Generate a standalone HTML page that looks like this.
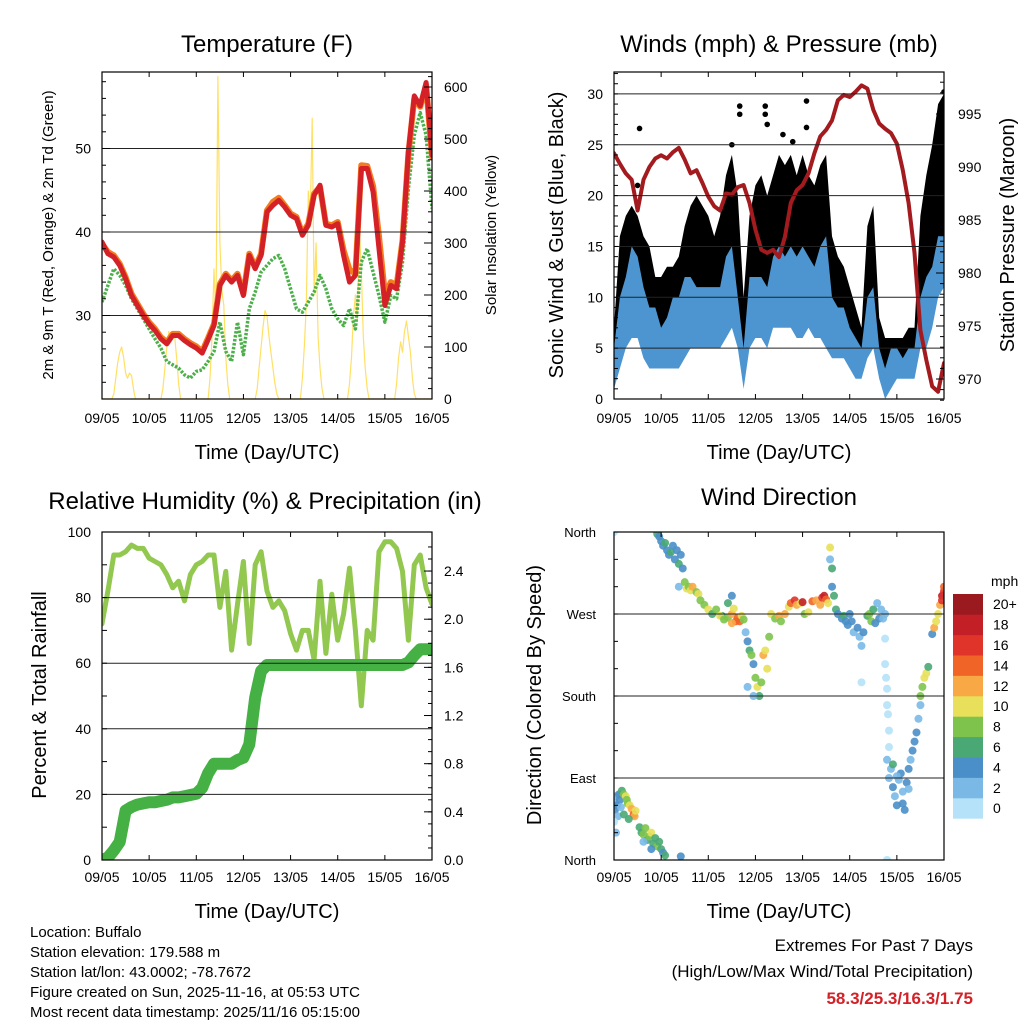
<!DOCTYPE html>
<html><head><meta charset="utf-8">
<style>
html,body{margin:0;padding:0;background:#fff;}
svg{display:block;font-family:"Liberation Sans",Arial,sans-serif;}
</style></head>
<body>
<svg id="root" width="1024" height="1024" viewBox="0 0 1024 1024" xmlns="http://www.w3.org/2000/svg"></svg>
<script>
// ---------- data (3-hourly, hours 0..168) ----------
const dayLabels = ["09/05","10/05","11/05","12/05","13/05","14/05","15/05","16/05"];
const temp2m = [38.8,37.4,37.0,36.0,34.4,32.4,31.2,30.0,29.0,28.2,27.2,26.6,27.6,27.6,27.0,26.5,26.1,25.5,27.1,28.8,33.6,34.8,34.0,34.8,32.4,37.2,35.6,37.2,42.4,43.2,43.8,43.0,42.0,41.6,39.6,40.8,44.4,45.6,40.8,40.6,41.0,37.2,34.0,34.8,47.6,47.6,44.8,38.0,31.2,33.6,33.2,38.8,49.6,56.3,55.1,57.9,49.2];
const temp9m = [38.6,37.6,37.2,36.2,34.6,32.6,31.4,30.2,29.2,28.4,27.4,26.8,27.8,27.8,27.2,26.7,26.3,25.7,27.3,29.0,33.8,35.0,34.2,35.0,32.6,37.4,35.8,37.4,42.6,43.6,44.1,43.2,42.2,41.8,39.8,41.0,44.6,45.4,41.0,40.8,41.2,37.8,35.5,35.0,48.0,47.9,45.5,39.5,32.5,34.0,33.6,39.0,49.4,56.0,55.0,57.6,49.0];
const dewpt = [31.6,33.6,35.6,34.8,33.6,32.0,30.8,29.6,28.4,27.2,26.1,24.5,24.1,23.7,22.9,22.5,23.3,23.5,24.5,25.7,29.2,25.7,24.5,29.2,25.3,30.8,32.8,35.2,36.0,36.8,37.2,35.6,33.2,30.8,30.4,31.6,32.8,34.8,33.2,30.8,29.6,28.8,30.8,28.4,36.4,38.0,35.2,32.4,29.2,32.4,32.0,36.4,45.2,51.6,54.3,51.6,42.8];
// hourly solar insolation, hours 0..168
const solar = [0,0,0,0,0,0,10,40,70,90,100,80,50,40,50,45,20,0,0,0,0,0,0,0,
 0,0,0,0,0,0,0,20,60,100,130,110,130,120,80,30,0,0,0,0,0,0,0,0,
 0,0,0,0,0,0,0,40,120,250,150,620,300,210,180,80,30,0,0,0,0,0,0,0,
 0,0,0,0,0,0,0,20,60,100,140,170,160,120,90,60,30,10,0,0,0,0,0,0,
 0,0,0,0,0,0,40,100,180,400,350,540,200,300,120,60,20,0,0,0,0,0,0,0,
 0,0,0,0,0,0,30,80,160,200,150,330,250,120,60,20,0,0,0,0,0,0,0,0,
 0,0,0,0,0,0,30,80,110,90,130,150,120,90,40,10,0,0,0,0,0,0,0,0,0];
const pressure = [991.3,990.3,989.4,988.8,985.9,988.8,990.0,990.8,991.1,990.8,991.4,991.8,990.7,989.4,989.7,988.5,987.2,986.3,985.9,987.5,987.4,988.1,988.3,986.6,984.1,982.2,981.9,982.2,981.5,983.4,986.6,987.8,988.3,989.4,991.3,992.9,993.5,994.4,996.3,996.8,996.6,997.1,997.7,997.4,995.4,994.1,993.6,993.2,992.2,989.7,986.6,981.9,974.6,971.8,969.3,968.8,971.5];
const windLo = [1,3,5,6,6,4,3,3,3,3,3,3,4,5,5,5,5,5,5,6,7,5,1,5,6,6,5,7,7,7,7,6,6,7,6,6,5,4,4,4,3,2,2,4,5,2,0,1,2,2,2,2,5,5,7,10,11];
const windHi = [5,10,12,15,14,11,9,9,7,8,10,10,12,12,11,11,11,11,11,14,15,10,5,12,12,12,11,14,15,14,15,14,15,14,13,15,16,10,9,9,7,6,5,10,11,5,3,5,5,4,5,5,10,12,13,16,16];
const gustHi = [7,16,18,19,18,16,15,12,12,13,13,14,17,19,20,19,18,16,18,22,24,20,10,18,21,22,20,22,24,23,24,22,24,22,21,23,24,16,14,13,11,9,7,17,19,8,6,6,6,6,7,7,18,22,25,29,30];
const gustOutT = [13,64,64,77,77,78,98,98,91,86,168,167,166,12,60];
const gustOutV = [26.6,28.8,28.0,28.8,28.0,27.0,29.3,26.7,25.3,26.0,30.2,29.0,27.0,21,25];
const rh = [72,82,93,93,94,96,95,95,92,91,90,87,83,85,79,87,90,91,93,93,77,88,64,78,91,66,90,94,82,77,79,76,69,64,70,70,61,85,63,81,67,75,89,70,47,70,67,94,97,97,95,88,67,90,93,83,78];
const precip = [0,0.02,0.08,0.15,0.41,0.44,0.46,0.47,0.48,0.48,0.49,0.5,0.52,0.52,0.53,0.54,0.55,0.6,0.72,0.8,0.8,0.8,0.8,0.83,0.85,0.96,1.35,1.57,1.62,1.62,1.62,1.62,1.62,1.62,1.62,1.62,1.62,1.62,1.62,1.62,1.62,1.62,1.62,1.62,1.62,1.62,1.62,1.62,1.62,1.62,1.62,1.62,1.64,1.7,1.75,1.75,1.75];
const dirT = [0,0.5,1,1.5,2,2.5,3,3.5,0,1, 4,5,6,6.5,7,8,9,10,10.5,11,7.5,5, 13,14,15,16,17,18,19,20,21,22,23,24,25,26,15,19,34,
 22,23,24,25,26,27,28,29,30,31,32,33,34,35,33,0, 36,37,38,39,40,42,43,44,46,48,50,52,55,58,60,
 54,56,58,60,62,63,64,65,66,60,61, 67,68,69,70,71,72,73,74,75,76,77,78,79,71,68,
 80,82,84,85,87,89,90,92,93,95,97,99,101,103,105,106,107,108,109,96,
 110,110,111,111,112,113,114,116,117,118,119,
 120,121,122,124,125,126,126,127,129,130,131,132,133,134,135,136,137,138,138,
 138,138.5,139,139,139.5,140,140,139,139,
 140,141,142,143,144,145,146,147,148,149,150,151,152,153,154,155,156,142,150,147,144,
 156,157,158,159,160, 162,163,164,165,166,167,168,167,168];
const dirD = [65,55,70,60,48,72,66,58,42,30, 76,72,70,66,62,60,56,50,48,54,45,50, 36,30,28,35,22,26,30,18,24,15,20,12,8,5,20,12,4,
 358,355,350,345,348,340,335,338,345,330,340,325,335,320,300,360, 305,298,300,296,300,294,292,285,280,275,270,275,268,282,290,
 268,264,266,270,262,266,262,268,264,260,276, 250,240,230,225,215,200,190,180,195,225,230,210,245,180,190,
 270,265,268,262,270,278,282,285,280,282,270,272,284,285,280,288,290,286,282,283,
 343,330,320,300,290,275,270,265,268,262,258,
 270,262,250,255,245,235,195,250,268,270,262,275,260,282,265,275,265,270,243,
 215,200,188,170,160,142,124,0,110,
 90,100,80,70,60,88,95,75,55,85,100,110,120,130,140,155,170,105,78,62,92,
 180,190,200,205,212, 248,255,262,270,280,290,295,285,300];
const dirS = [3,4,2,4,3,5,4,3,1,2, 7,9,10,9,8,11,12,14,13,10,7,6, 6,7,8,9,6,8,10,7,6,8,7,6,5,7,3,5,4,
 7,5,4,5,6,5,4,6,5,4,5,6,4,5,3,1, 8,10,9,11,12,8,10,9,8,10,7,8,6,7,5,
 10,9,8,12,14,15,14,11,8,12,10, 2,4,6,9,4,8,10,6,9,12,11,10,9,2,3,
 10,9,12,9,13,11,14,16,13,10,9,11,14,12,12,16,18,14,10,18,
 10,3,6,5,7,6,5,4,6,4,5,
 5,4,3,4,2,2,1,4,6,8,9,7,5,3,4,3,2,2,1,
 0,0,1,0,1,1,1,1,2,
 3,2,4,3,4,3,4,2,4,5,4,3,4,5,4,3,2,6,2,4,2,
 8,9,11,10,7, 4,12,10,11,12,18,17,16,14];
const speedLabels = ["0","2","4","6","8","10","12","14","16","18","20+"];
const speedColors = ["#b5e2f8","#7ab9e5","#4a8fc8","#4aa874","#7ec44c","#e8e05a","#f8a945","#f06428","#e0332a","#c21f27","#9b1a1f"];

// ---------- helpers ----------
const NS = "http://www.w3.org/2000/svg";
const root = document.getElementById("root");
function mk(tag, attrs, name, parent) {
  const el = document.createElementNS(NS, tag);
  for (const k in attrs) el.setAttribute(k, attrs[k]);
  
  
  (parent || root).appendChild(el);
  return el;
}
function txt(x, y, s, size, anchor, name, opts) {
  opts = opts || {};
  const a = {x: x, y: y, "font-size": size, "text-anchor": anchor || "start", fill: opts.fill || "#000"};
  if (opts.weight) a["font-weight"] = opts.weight;
  if (opts.rot) a.transform = "rotate(" + opts.rot + " " + x + " " + y + ")";
  const t = mk("text", a, name, opts.parent);
  t.textContent = s;
  return t;
}
function line(x1, y1, x2, y2, stroke, w, name, parent) {
  return mk("line", {x1: x1, y1: y1, x2: x2, y2: y2, stroke: stroke, "stroke-width": w}, name, parent);
}
function poly(pts, stroke, w, name, parent, extra) {
  const a = {points: pts.map(p => p[0].toFixed(1) + "," + p[1].toFixed(1)).join(" "), fill: "none", stroke: stroke, "stroke-width": w, "stroke-linejoin": "round", "stroke-linecap": "round"};
  for (const k in (extra || {})) a[k] = extra[k];
  return mk("polyline", a, name, parent);
}
function area(top, bot, fill, name, parent) {
  const pts = top.concat(bot.slice().reverse());
  return mk("polygon", {points: pts.map(p => p[0].toFixed(1) + "," + p[1].toFixed(1)).join(" "), fill: fill}, name, parent);
}
function panel(P, id) {
  const g = mk("g", {}, id + "-panel");
  const cp = mk("clipPath", {id: id + "-clip"}, id + "-clip", g);
  mk("rect", {x: P.x0, y: P.y0, width: P.x1 - P.x0, height: P.y1 - P.y0}, id + "-clip-rect", cp);
  const plot = mk("g", {"clip-path": "url(#" + id + "-clip)"}, id + "-plot-area", g);
  return {g: g, plot: plot, xs: h => P.x0 + h * (P.x1 - P.x0) / 168};
}
function frameAndDays(P, pn, id, labelY) {
  mk("rect", {x: P.x0, y: P.y0, width: P.x1 - P.x0, height: P.y1 - P.y0, fill: "none", stroke: "#000", "stroke-width": 1.2}, id + "-frame", pn.g);
  dayLabels.forEach((d, i) => {
    const x = pn.xs(i * 24);
    line(x, P.y1, x, P.y1 - 5, "#000", 1, id + "-x-tick", pn.g);
    line(x, P.y0, x, P.y0 + 5, "#000", 1, id + "-x-tick-top", pn.g);
    txt(x, labelY, d, 14, "middle", id + "-x-tick-label", {parent: pn.g});
  });
  txt((P.x0 + P.x1) / 2, labelY + 36, "Time (Day/UTC)", 20, "middle", id + "-x-axis-title", {parent: pn.g});
}
const t3 = i => i * 3;

// ---------- Panel 1: Temperature ----------
(function () {
  const P = {x0: 102, x1: 432, y0: 72, y1: 399};
  const pn = panel(P, "temp");
  const ty = v => 399 - (v - 20) * 8.35;
  const sy = v => 399 - v * 0.52;
  [30, 40, 50].forEach(v => {
    line(P.x0, ty(v), P.x1, ty(v), "#222", 1, "temp-gridline", pn.g);
    txt(P.x0 - 11, ty(v) + 5, String(v), 14, "end", "temp-y-tick-label", {parent: pn.g});
  });
  for (let v = 22; v <= 58; v += 2) line(P.x0, ty(v), P.x0 + (v % 10 === 0 ? 8 : 4), ty(v), "#000", 1, "temp-y-minor-tick", pn.g);
  for (let v = 0; v <= 600; v += 100) {
    line(P.x1, sy(v), P.x1 - 8, sy(v), "#000", 1, "solar-y-tick", pn.g);
    txt(P.x1 + 12, sy(v) + 5, String(v), 14, "start", "solar-y-tick-label", {parent: pn.g});
  }
  for (let v = 20; v <= 620; v += 20) line(P.x1, sy(v), P.x1 - 4, sy(v), "#000", 1, "solar-y-minor-tick", pn.g);
  poly(solar.map((v, i) => [pn.xs(i), sy(v)]), "#ffe066", 1.2, "solar-insolation-line", pn.plot);
  poly(dewpt.map((v, i) => [pn.xs(t3(i)), ty(v)]), "#4cb04a", 3.5, "dewpoint-2m-line", pn.plot, {"stroke-dasharray": "2.5,1.5", "stroke-linecap": "butt"});
  poly(temp9m.map((v, i) => [pn.xs(t3(i)), ty(v)]), "#f47c20", 6, "temp-9m-line", pn.plot);
  poly(temp2m.map((v, i) => [pn.xs(t3(i)), ty(v)]), "#d42027", 5, "temp-2m-line", pn.plot);
  frameAndDays(P, pn, "temp", 423);
  txt(267, 52, "Temperature (F)", 24, "middle", "temp-chart-title", {parent: pn.g});
  txt(53, 235, "2m & 9m T (Red, Orange) & 2m Td (Green)", 15, "middle", "temp-y-axis-title", {parent: pn.g, rot: -90});
  txt(496, 235, "Solar Insolation (Yellow)", 15, "middle", "solar-y-axis-title", {parent: pn.g, rot: -90});
})();

// ---------- Panel 2: Winds & Pressure ----------
(function () {
  const P = {x0: 614, x1: 944, y0: 72, y1: 399};
  const pn = panel(P, "wind");
  const wy = v => 399 - v * 10.17;
  const py = v => 379 - (v - 970) * 10.6;
  for (let v = 0; v <= 30; v += 5) {
    if (v > 0) line(P.x0, wy(v), P.x1, wy(v), "#222", 1, "wind-gridline", pn.g);
    txt(P.x0 - 11, wy(v) + 5, String(v), 14, "end", "wind-y-tick-label", {parent: pn.g});
  }
  for (let v = 1; v <= 32; v++) line(P.x0, wy(v), P.x0 + 4, wy(v), "#000", 1, "wind-y-minor-tick", pn.g);
  for (let v = 970; v <= 995; v += 5) {
    line(P.x1, py(v), P.x1 - 8, py(v), "#000", 1, "pressure-y-tick", pn.g);
    txt(P.x1 + 14, py(v) + 5, String(v), 14, "start", "pressure-y-tick-label", {parent: pn.g});
  }
  for (let v = 968; v <= 998; v++) line(P.x1, py(v), P.x1 - 4, py(v), "#000", 1, "pressure-y-minor-tick", pn.g);
  area(gustHi.map((v, i) => [pn.xs(t3(i)), wy(v)]), windLo.map((v, i) => [pn.xs(t3(i)), wy(v + 1)]), "#000", "gust-points", pn.plot);
  gustOutT.forEach((t, i) => mk("circle", {cx: pn.xs(t), cy: wy(gustOutV[i]), r: 2.8, fill: "#000"}, "gust-outlier-point", pn.plot));
  area(windHi.map((v, i) => [pn.xs(t3(i)), wy(v)]), windLo.map((v, i) => [pn.xs(t3(i)), wy(v)]), "#4d95d0", "sonic-wind-band", pn.plot);
  poly(pressure.map((v, i) => [pn.xs(t3(i)), py(v)]), "#a31b1f", 4, "station-pressure-line", pn.plot);
  frameAndDays(P, pn, "wind", 423);
  txt(779, 52, "Winds (mph) & Pressure (mb)", 24, "middle", "wind-chart-title", {parent: pn.g});
  txt(563, 235, "Sonic Wind & Gust (Blue, Black)", 20, "middle", "wind-y-axis-title", {parent: pn.g, rot: -90});
  txt(1014, 235, "Station Pressure (Maroon)", 20, "middle", "pressure-y-axis-title", {parent: pn.g, rot: -90});
})();

// ---------- Panel 3: RH & Precip ----------
(function () {
  const P = {x0: 102, x1: 432, y0: 532, y1: 860};
  const pn = panel(P, "rh");
  const ry = v => 860 - v * 3.28;
  const pry = v => 860 - v * 120.4;
  for (let v = 0; v <= 100; v += 20) {
    if (v > 0 && v < 100) line(P.x0, ry(v), P.x1, ry(v), "#222", 1, "rh-gridline", pn.g);
    txt(P.x0 - 11, ry(v) + 5, String(v), 14, "end", "rh-y-tick-label", {parent: pn.g});
  }
  for (let v = 10; v <= 100; v += 10) line(P.x0, ry(v), P.x0 + 5, ry(v), "#000", 1, "rh-y-minor-tick", pn.g);
  for (let v = 0; v <= 2.41; v += 0.4) {
    line(P.x1, pry(v), P.x1 - 8, pry(v), "#000", 1, "precip-y-tick", pn.g);
    txt(P.x1 + 12, pry(v) + 5, v.toFixed(1), 14, "start", "precip-y-tick-label", {parent: pn.g});
  }
  for (let v = 0.1; v <= 2.7; v += 0.1) line(P.x1, pry(v), P.x1 - 4, pry(v), "#000", 1, "precip-y-minor-tick", pn.g);
  poly(rh.map((v, i) => [pn.xs(t3(i)), ry(v)]), "#92c850", 5, "relative-humidity-line", pn.plot);
  poly(precip.map((v, i) => [pn.xs(t3(i)), pry(v)]), "#45b044", 12, "total-rainfall-line", pn.plot);
  frameAndDays(P, pn, "rh", 882);
  txt(265, 509, "Relative Humidity (%) & Precipitation (in)", 24, "middle", "rh-chart-title", {parent: pn.g});
  txt(46, 695, "Percent & Total Rainfall", 20, "middle", "rh-y-axis-title", {parent: pn.g, rot: -90});
})();

// ---------- Panel 4: Wind direction ----------
(function () {
  const P = {x0: 614, x1: 944, y0: 532, y1: 860};
  const pn = panel(P, "dir");
  const dy = v => 860 - v * 0.911;
  const names = ["North", "East", "South", "West", "North"];
  [0, 90, 180, 270, 360].forEach((v, i) => {
    if (v > 0 && v < 360) line(P.x0, dy(v), P.x1, dy(v), "#222", 1, "dir-gridline", pn.g);
    txt(P.x0 - 18, dy(v) + 5, names[i], 13, "end", "dir-y-tick-label", {parent: pn.g});
  });
  for (let v = 30; v < 360; v += 30) line(P.x0, dy(v), P.x0 + 4, dy(v), "#000", 1, "dir-y-minor-tick", pn.g);
  dirT.forEach((t, i) => {
    const c = speedColors[Math.min(10, Math.floor(dirS[i] / 2))];
    mk("circle", {cx: pn.xs(t), cy: dy(dirD[i]), r: 4, fill: c, "fill-opacity": 0.9}, "wind-direction-point", pn.plot);
  });
  frameAndDays(P, pn, "dir", 882);
  txt(779, 505, "Wind Direction", 24, "middle", "dir-chart-title", {parent: pn.g});
  txt(541, 695, "Direction (Colored By Speed)", 20, "middle", "dir-y-axis-title", {parent: pn.g, rot: -90});
  // colorbar
  const cb = mk("g", {}, "speed-colorbar");
  const bh = 20.4;
  speedLabels.forEach((lab, i) => {
    const y = 594 + (10 - i) * bh;
    mk("rect", {x: 953, y: y, width: 30, height: bh + 0.3, fill: speedColors[i]}, "colorbar-swatch", cb);
    txt(993, y + bh / 2 + 5, lab, 14, "start", "colorbar-label", {parent: cb});
  });
  txt(991, 586, "mph", 14, "start", "colorbar-unit-label", {parent: cb});
})();

// ---------- Footer ----------
(function () {
  const f = mk("g", {}, "station-info");
  const lines = ["Location: Buffalo", "Station elevation: 179.588 m", "Station lat/lon: 43.0002; -78.7672", "Figure created on Sun, 2025-11-16, at 05:53 UTC", "Most recent data timestamp: 2025/11/16 05:15:00"];
  lines.forEach((s, i) => txt(30, 937 + i * 20, s, 15, "start", "station-info-line", {parent: f}));
  const e = mk("g", {}, "extremes-summary");
  txt(973, 951, "Extremes For Past 7 Days", 17, "end", "extremes-title", {parent: e});
  txt(973, 977, "(High/Low/Max Wind/Total Precipitation)", 17, "end", "extremes-subtitle", {parent: e});
  txt(973, 1004, "58.3/25.3/16.3/1.75", 17, "end", "extremes-values", {parent: e, fill: "#d42027", weight: "bold"});
})();
</script>
</body></html>
